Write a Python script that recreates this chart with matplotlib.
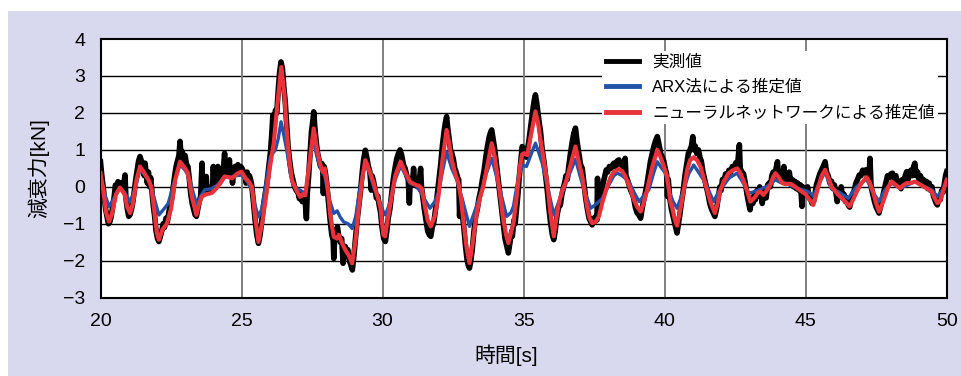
import numpy as np
import matplotlib
matplotlib.use("Agg")
import matplotlib.pyplot as plt
from matplotlib.patches import Rectangle

plt.rcParams['font.family'] = ['Liberation Sans', 'Noto Sans CJK JP']
plt.rcParams['axes.unicode_minus'] = True

labels = ["実測値", "ARX法による推定値", "ニューラルネットワークによる推定値"]
x_ticks = [20, 25, 30, 35, 40, 45, 50]
y_ticks = [-3, -2, -1, 0, 1, 2, 3, 4]

measured = [
    (20.00, 0.68), (20.04, 0.35), (20.08, 0.10), (20.13, -0.25), (20.18, -0.60), (20.23, -0.80),
    (20.28, -1.00), (20.33, -0.95), (20.38, -0.80), (20.43, -0.55), (20.48, -0.30), (20.53, 0.05),
    (20.57, -0.10), (20.62, 0.14), (20.66, 0.00), (20.71, 0.10), (20.76, -0.05), (20.81, 0.00),
    (20.87, 0.32), (20.90, -0.30), (20.95, -0.60), (21.00, -0.80), (21.05, -0.75), (21.10, -0.60),
    (21.15, -0.40), (21.20, -0.10), (21.25, 0.20), (21.30, 0.45), (21.35, 0.70), (21.40, 0.82),
    (21.45, 0.70), (21.50, 0.60), (21.55, 0.30), (21.58, 0.64), (21.62, 0.35), (21.66, 0.10),
    (21.70, 0.40), (21.74, 0.00), (21.78, 0.25), (21.82, -0.10), (21.87, -0.50), (21.92, -0.80),
    (21.97, -1.20), (22.02, -1.40), (22.07, -1.48), (22.12, -1.35), (22.17, -1.20), (22.22, -1.00),
    (22.27, -1.10), (22.32, -0.85), (22.37, -0.95), (22.42, -0.70), (22.47, -0.50), (22.53, -0.30),
    (22.58, 0.00), (22.63, 0.30), (22.68, 0.55), (22.73, 0.70), (22.78, 0.85), (22.82, 1.23),
    (22.86, 0.80), (22.90, 0.95), (22.95, 0.70), (23.00, 0.85), (23.05, 0.60), (23.10, 0.55),
    (23.15, 0.20), (23.20, -0.20), (23.25, -0.45), (23.30, -0.60), (23.35, -0.75), (23.40, -0.80),
    (23.45, -0.60), (23.50, -0.40), (23.55, -0.25), (23.60, 0.64), (23.63, -0.20), (23.68, -0.15),
    (23.72, -0.10), (23.75, 0.28), (23.78, -0.12), (23.83, -0.05), (23.88, -0.15), (23.93, 0.00),
    (23.97, -0.10), (24.00, 0.55), (24.03, -0.05), (24.08, 0.05), (24.13, 0.10), (24.16, 0.55),
    (24.20, 0.15), (24.25, 0.25), (24.30, 0.20), (24.35, 0.40), (24.40, 0.91), (24.43, 0.30),
    (24.48, 0.45), (24.52, 0.30), (24.57, 0.73), (24.60, 0.35), (24.65, 0.50), (24.68, 0.10),
    (24.72, 0.45), (24.77, 0.55), (24.82, 0.40), (24.87, 0.60), (24.92, 0.45), (24.97, 0.55),
    (25.02, 0.50), (25.07, 0.40), (25.12, 0.35), (25.16, 0.10), (25.20, 0.40), (25.24, 0.15),
    (25.28, 0.30), (25.32, 0.20), (25.36, 0.05), (25.42, -0.40), (25.48, -0.90), (25.54, -1.30),
    (25.60, -1.53), (25.66, -1.30), (25.72, -0.90), (25.78, -0.50), (25.84, -0.20), (25.90, 0.10),
    (25.96, 0.50), (26.02, 0.90), (26.07, 1.40), (26.11, 1.94), (26.15, 1.60), (26.20, 2.07),
    (26.25, 2.00), (26.30, 2.60), (26.35, 3.10), (26.40, 3.38), (26.45, 3.20), (26.50, 2.70),
    (26.55, 2.30), (26.60, 1.70), (26.65, 1.10), (26.70, 0.75), (26.76, 0.40), (26.82, 0.20),
    (26.88, 0.00), (26.94, -0.10), (27.00, -0.14), (27.05, -0.32), (27.10, -0.20), (27.15, -0.40),
    (27.20, -0.25), (27.25, -0.30), (27.30, -0.86), (27.33, -0.20), (27.38, 0.30), (27.43, 0.90),
    (27.48, 1.50), (27.53, 1.80), (27.56, 2.03), (27.60, 1.60), (27.65, 1.20), (27.70, 0.90),
    (27.75, 0.72), (27.80, 0.55), (27.85, 0.63), (27.88, 0.45), (27.90, -0.18), (27.93, 0.55),
    (27.97, 0.40), (28.02, 0.10), (28.08, -0.40), (28.14, -0.90), (28.20, -1.30), (28.25, -1.45),
    (28.27, -1.94), (28.30, -1.40), (28.35, -1.20), (28.40, -1.08), (28.45, -1.35), (28.50, -1.50),
    (28.55, -1.40), (28.60, -2.07), (28.63, -1.60), (28.68, -1.62), (28.72, -1.80), (28.77, -1.70),
    (28.82, -2.00), (28.87, -2.10), (28.93, -2.25), (28.98, -1.90), (29.04, -1.40), (29.10, -0.90),
    (29.16, -0.50), (29.22, -0.10), (29.28, 0.40), (29.33, 0.75), (29.39, 0.99), (29.44, 0.80),
    (29.50, 0.55), (29.55, 0.40), (29.60, -0.09), (29.63, 0.30), (29.68, 0.15), (29.73, -0.05),
    (29.78, -0.30), (29.83, -0.25), (29.88, -0.50), (29.93, -0.70), (29.98, -1.10), (30.04, -1.40),
    (30.10, -1.48), (30.15, -1.20), (30.20, -0.85), (30.26, -0.60), (30.32, -0.20), (30.38, 0.20),
    (30.44, 0.50), (30.50, 0.75), (30.56, 0.90), (30.62, 1.00), (30.68, 0.85), (30.74, 0.60),
    (30.80, 0.50), (30.86, 0.30), (30.91, 0.20), (30.95, -0.44), (30.98, 0.20), (31.03, 0.10),
    (31.08, 0.30), (31.10, 0.50), (31.14, 0.05), (31.19, 0.15), (31.24, 0.00), (31.29, 0.10),
    (31.35, 0.50), (31.38, 0.00), (31.43, -0.30), (31.48, -0.60), (31.54, -0.90), (31.60, -1.20),
    (31.66, -1.30), (31.71, -1.34), (31.76, -1.10), (31.82, -0.95), (31.88, -0.60), (31.94, -0.20),
    (32.00, 0.20), (32.06, 0.60), (32.12, 1.10), (32.18, 1.50), (32.23, 1.75), (32.27, 1.90),
    (32.31, 1.60), (32.36, 1.30), (32.41, 1.00), (32.46, 0.90), (32.51, 0.75), (32.56, 0.50),
    (32.61, 0.40), (32.66, 0.25), (32.70, 0.20), (32.73, -0.80), (32.76, -0.30), (32.82, -0.70),
    (32.88, -1.10), (32.94, -1.60), (33.00, -2.00), (33.05, -2.15), (33.08, -2.20), (33.12, -2.05),
    (33.18, -1.70), (33.24, -1.20), (33.30, -0.80), (33.36, -0.60), (33.42, -0.30), (33.48, -0.10),
    (33.54, 0.20), (33.60, 0.45), (33.66, 0.80), (33.72, 1.10), (33.78, 1.35), (33.84, 1.50),
    (33.87, 1.54), (33.92, 1.30), (33.98, 1.00), (34.04, 0.60), (34.10, 0.20), (34.16, -0.20),
    (34.22, -0.60), (34.28, -1.00), (34.34, -1.40), (34.40, -1.60), (34.46, -1.79), (34.52, -1.50),
    (34.58, -1.20), (34.60, -1.34), (34.66, -0.90), (34.70, -1.00), (34.75, -0.60), (34.80, -0.20),
    (34.85, 0.30), (34.90, 0.70), (34.95, 1.09), (35.00, 1.00), (35.05, 0.95), (35.10, 0.80),
    (35.13, 1.00), (35.18, 1.20), (35.23, 1.50), (35.28, 1.80), (35.33, 2.10), (35.38, 2.35),
    (35.42, 2.49), (35.46, 2.30), (35.51, 2.00), (35.56, 1.70), (35.60, 1.50), (35.66, 1.00),
    (35.72, 0.70), (35.78, 0.30), (35.84, -0.10), (35.90, -0.60), (35.96, -1.00), (36.02, -1.30),
    (36.07, -1.43), (36.12, -1.20), (36.18, -0.80), (36.24, -0.55), (36.30, -0.50), (36.36, -0.20),
    (36.42, 0.00), (36.48, 0.20), (36.50, 0.30), (36.55, 0.20), (36.60, 0.55), (36.66, 0.90),
    (36.72, 1.20), (36.78, 1.45), (36.84, 1.59), (36.90, 1.20), (36.96, 0.90), (37.02, 0.60),
    (37.08, 0.50), (37.14, 0.10), (37.20, -0.30), (37.26, -0.60), (37.32, -0.85), (37.38, -0.95),
    (37.43, -1.03), (37.48, -0.85), (37.52, -0.95), (37.56, -0.80), (37.60, -0.90), (37.62, 0.23),
    (37.65, -0.70), (37.70, -0.50), (37.76, -0.20), (37.82, 0.10), (37.88, 0.30), (37.93, 0.46),
    (37.98, 0.40), (38.04, 0.55), (38.10, 0.50), (38.16, 0.60), (38.20, 0.64), (38.26, 0.55),
    (38.32, 0.70), (38.38, 0.73), (38.44, 0.60), (38.50, 0.65), (38.55, 0.45), (38.60, 0.77),
    (38.63, 0.30), (38.68, 0.20), (38.74, 0.05), (38.80, -0.10), (38.86, -0.20), (38.90, -0.30),
    (38.96, -0.55), (39.02, -0.70), (39.08, -0.75), (39.15, -0.85), (39.20, -0.60), (39.26, -0.35),
    (39.32, -0.15), (39.38, 0.10), (39.44, 0.40), (39.50, 0.70), (39.56, 0.90), (39.62, 1.10),
    (39.68, 1.25), (39.74, 1.36), (39.80, 1.15), (39.86, 0.90), (39.92, 0.80), (39.97, 0.70),
    (40.02, 0.50), (40.07, 0.35), (40.10, -0.26), (40.13, 0.20), (40.18, -0.30), (40.24, -0.60),
    (40.30, -0.80), (40.36, -1.00), (40.41, -1.15), (40.44, -1.25), (40.48, -1.05), (40.54, -0.75),
    (40.60, -0.40), (40.66, -0.10), (40.72, 0.30), (40.78, 0.60), (40.84, 0.90), (40.90, 1.00),
    (40.95, 1.10), (41.00, 1.36), (41.04, 1.00), (41.09, 1.10), (41.14, 0.90), (41.20, 1.00),
    (41.25, 0.80), (41.30, 0.70), (41.36, 0.40), (41.42, 0.20), (41.48, 0.00), (41.54, -0.20),
    (41.60, -0.45), (41.66, -0.60), (41.72, -0.70), (41.78, -0.80), (41.84, -0.60), (41.90, -0.30),
    (41.96, 0.00), (42.00, -0.10), (42.05, 0.20), (42.10, 0.10), (42.16, 0.35), (42.22, 0.25),
    (42.28, 0.45), (42.34, 0.40), (42.40, 0.55), (42.46, 0.50), (42.52, 0.65), (42.58, 0.55),
    (42.65, 1.14), (42.68, 0.50), (42.74, 0.40), (42.80, 0.35), (42.86, 0.10), (42.92, -0.20),
    (42.98, -0.45), (43.03, -0.62), (43.08, -0.30), (43.13, -0.45), (43.18, -0.20), (43.22, -0.35),
    (43.27, -0.10), (43.32, -0.25), (43.37, 0.00), (43.42, -0.15), (43.46, -0.45), (43.50, -0.20),
    (43.55, -0.10), (43.60, -0.30), (43.65, 0.05), (43.70, 0.10), (43.75, 0.00), (43.80, 0.30),
    (43.85, 0.40), (43.90, 0.30), (43.95, 0.50), (44.00, 0.68), (44.04, 0.25), (44.09, 0.40),
    (44.14, 0.20), (44.19, 0.35), (44.23, 0.55), (44.27, 0.10), (44.32, 0.30), (44.37, 0.15),
    (44.42, 0.40), (44.47, 0.10), (44.52, 0.20), (44.57, 0.00), (44.62, 0.15), (44.67, -0.05),
    (44.72, 0.10), (44.77, -0.10), (44.82, 0.05), (44.87, -0.53), (44.90, 0.00), (44.97, -0.05),
    (45.02, -0.20), (45.07, 0.00), (45.12, -0.30), (45.18, -0.35), (45.23, -0.45), (45.28, -0.40),
    (45.33, -0.20), (45.38, 0.05), (45.44, 0.20), (45.50, 0.35), (45.56, 0.45), (45.62, 0.55),
    (45.69, 0.68), (45.74, 0.40), (45.80, 0.30), (45.86, 0.10), (45.92, 0.15), (45.97, -0.05),
    (46.02, 0.05), (46.07, -0.15), (46.12, -0.40), (46.16, -0.10), (46.21, -0.20), (46.26, 0.00),
    (46.31, -0.30), (46.36, -0.20), (46.41, -0.40), (46.46, -0.30), (46.51, -0.50), (46.56, -0.55),
    (46.61, -0.35), (46.66, -0.20), (46.72, -0.10), (46.78, 0.10), (46.84, 0.20), (46.90, 0.32),
    (46.96, 0.30), (47.02, 0.45), (47.08, 0.40), (47.13, 0.46), (47.18, 0.30), (47.24, 0.20),
    (47.28, 0.77), (47.32, 0.00), (47.38, -0.20), (47.44, -0.40), (47.50, -0.55), (47.56, -0.65),
    (47.60, -0.71), (47.66, -0.50), (47.72, -0.30), (47.78, -0.10), (47.84, 0.10), (47.90, 0.30),
    (47.96, 0.25), (48.02, 0.35), (48.08, 0.37), (48.14, 0.20), (48.20, 0.30), (48.26, 0.05),
    (48.32, 0.15), (48.38, -0.05), (48.43, 0.20), (48.48, 0.10), (48.53, 0.30), (48.58, 0.41),
    (48.63, 0.20), (48.68, 0.35), (48.73, 0.45), (48.78, 0.30), (48.83, 0.55), (48.87, 0.64),
    (48.92, 0.30), (48.97, 0.40), (49.02, 0.20), (49.07, 0.30), (49.12, 0.10), (49.17, 0.20),
    (49.22, 0.05), (49.28, 0.15), (49.33, -0.05), (49.38, 0.10), (49.43, -0.10), (49.48, 0.00),
    (49.53, -0.25), (49.58, -0.35), (49.63, -0.45), (49.67, -0.49), (49.72, -0.30), (49.77, -0.35),
    (49.82, -0.10), (49.87, -0.15), (49.92, 0.10), (49.96, 0.30), (50.00, 0.41),
]

# ARX法による推定値
arx = [
    (20.00, 0.30), (20.15, -0.20), (20.30, -0.53), (20.45, -0.35), (20.69, -0.02), (20.85, -0.15),
    (21.05, -0.40), (21.20, -0.10), (21.40, 0.45), (21.60, 0.30), (21.75, 0.12), (21.90, -0.30),
    (22.07, -0.76), (22.25, -0.60), (22.40, -0.45), (22.60, 0.10), (22.82, 0.60), (23.00, 0.45),
    (23.15, 0.25), (23.30, -0.20), (23.42, -0.49), (23.55, -0.25), (23.70, -0.08), (23.94, -0.05),
    (24.15, 0.05), (24.40, 0.28), (24.60, 0.26), (24.80, 0.30), (25.00, 0.32), (25.20, 0.15),
    (25.37, -0.09), (25.48, -0.50), (25.60, -0.81), (25.72, -0.60), (25.85, 0.00), (26.02, 0.81),
    (26.20, 1.00), (26.30, 1.30), (26.40, 1.76), (26.50, 1.40), (26.60, 1.00), (26.79, 0.14),
    (26.95, -0.05), (27.08, -0.09), (27.26, -0.18), (27.40, 0.50), (27.53, 1.35), (27.65, 0.90),
    (27.80, 0.50), (27.95, 0.30), (28.10, -0.30), (28.27, -0.72), (28.39, -0.65), (28.50, -0.82),
    (28.62, -0.95), (28.78, -1.00), (28.92, -1.13), (29.05, -0.80), (29.15, -0.27), (29.28, 0.30),
    (29.39, 0.72), (29.55, 0.35), (29.72, -0.09), (29.90, -0.40), (30.05, -0.72), (30.10, -0.76),
    (30.26, -0.44), (30.45, 0.20), (30.64, 0.57), (30.97, 0.10), (31.20, 0.03), (31.37, -0.17),
    (31.50, -0.35), (31.68, -0.58), (31.85, -0.40), (31.98, -0.17), (32.12, 0.40), (32.27, 0.95),
    (32.45, 0.50), (32.63, 0.19), (32.85, -0.40), (33.08, -1.07), (33.25, -0.70), (33.45, -0.26),
    (33.65, 0.30), (33.87, 0.77), (34.00, 0.40), (34.16, -0.08), (34.30, -0.50), (34.40, -0.80),
    (34.55, -0.70), (34.64, -0.53), (34.80, 0.20), (34.95, 0.59), (35.10, 0.55), (35.25, 0.85),
    (35.42, 1.18), (35.55, 0.90), (35.66, 0.64), (35.90, -0.17), (36.07, -0.76), (36.20, -0.50),
    (36.37, -0.17), (36.60, 0.30), (36.84, 0.75), (37.00, 0.30), (37.14, -0.08), (37.38, -0.58),
    (37.60, -0.45), (37.79, -0.31), (38.02, 0.05), (38.20, 0.30), (38.32, 0.37), (38.50, 0.30),
    (38.73, 0.14), (38.95, -0.20), (39.10, -0.40), (39.30, -0.20), (39.44, -0.08), (39.60, 0.35),
    (39.74, 0.68), (39.90, 0.50), (40.03, 0.37), (40.15, -0.10), (40.30, -0.40), (40.44, -0.58),
    (40.60, -0.25), (40.68, -0.08), (40.85, 0.35), (41.03, 0.59), (41.20, 0.40), (41.45, 0.10),
    (41.62, -0.20), (41.74, -0.40), (41.90, -0.15), (42.04, 0.00), (42.30, 0.25), (42.57, 0.37),
    (42.75, 0.15), (42.98, -0.17), (43.10, -0.15), (43.34, -0.08), (43.60, 0.00), (43.78, 0.10),
    (43.93, 0.19), (44.10, 0.12), (44.28, 0.10), (44.50, 0.02), (44.87, -0.08), (45.00, -0.10),
    (45.17, -0.17), (45.27, -0.26), (45.45, 0.05), (45.69, 0.41), (45.90, -0.04), (46.20, -0.15),
    (46.51, -0.31), (46.80, 0.00), (47.16, 0.21), (47.35, -0.10), (47.60, -0.40), (47.80, -0.10),
    (48.05, 0.10), (48.35, -0.04), (48.88, 0.14), (49.20, 0.00), (49.47, -0.08), (49.67, -0.26),
    (49.85, -0.10), (50.00, 0.14),
]

# ニューラルネットワークによる推定値
nn = [
    (20.00, 0.37), (20.10, -0.10), (20.20, -0.70), (20.30, -0.94), (20.40, -0.75), (20.55, -0.20),
    (20.69, -0.02), (20.85, -0.20), (20.95, -0.55), (21.05, -0.71), (21.15, -0.45), (21.28, 0.20),
    (21.40, 0.55), (21.55, 0.38), (21.70, 0.19), (21.80, 0.00), (21.90, -0.60), (22.00, -1.25),
    (22.07, -1.43), (22.20, -1.15), (22.35, -1.00), (22.50, -0.60), (22.65, 0.20), (22.82, 0.68),
    (23.00, 0.50), (23.10, 0.37), (23.25, -0.30), (23.40, -0.76), (23.50, -0.45), (23.60, -0.26),
    (23.75, -0.20), (23.94, -0.17), (24.10, -0.05), (24.25, 0.10), (24.40, 0.28), (24.55, 0.26),
    (24.66, 0.23), (24.85, 0.36), (25.00, 0.41), (25.14, 0.23), (25.25, 0.15), (25.37, 0.00),
    (25.48, -0.80), (25.60, -1.49), (25.75, -0.90), (25.90, -0.09), (26.00, 0.50), (26.14, 1.17),
    (26.28, 2.30), (26.41, 3.24), (26.52, 2.50), (26.61, 1.44), (26.70, 0.70), (26.79, 0.18),
    (26.95, -0.10), (27.08, -0.27), (27.18, -0.20), (27.26, -0.23), (27.40, 0.60), (27.56, 1.58),
    (27.68, 1.00), (27.80, 0.59), (27.88, 0.40), (27.95, 0.50), (28.05, 0.00), (28.15, -0.80),
    (28.27, -1.35), (28.38, -1.40), (28.45, -1.30), (28.55, -1.50), (28.68, -1.71), (28.80, -1.85),
    (28.92, -2.07), (29.05, -1.40), (29.15, -0.63), (29.28, 0.20), (29.39, 0.72), (29.55, 0.40),
    (29.69, 0.09), (29.80, -0.20), (29.92, -0.54), (30.03, -1.30), (30.09, -1.34), (30.18, -0.90),
    (30.26, -0.53), (30.45, 0.30), (30.64, 0.68), (30.80, 0.40), (30.97, 0.14), (31.10, 0.08),
    (31.21, 0.05), (31.30, 0.02), (31.39, -0.04), (31.50, -0.53), (31.60, -0.90), (31.71, -1.07),
    (31.85, -0.80), (31.98, -0.26), (32.12, 0.70), (32.27, 1.54), (32.38, 1.10), (32.45, 0.73),
    (32.58, 0.35), (32.69, 0.10), (32.78, -0.30), (32.86, -0.89), (32.97, -1.60), (33.08, -2.06),
    (33.20, -1.50), (33.34, -0.71), (33.45, -0.30), (33.57, 0.00), (33.72, 0.60), (33.87, 1.18),
    (33.98, 0.80), (34.11, 0.10), (34.20, -0.40), (34.28, -0.89), (34.38, -1.30), (34.46, -1.52),
    (34.55, -1.25), (34.64, -0.98), (34.75, -0.30), (34.87, 0.55), (34.95, 0.88), (35.02, 0.91),
    (35.13, 0.86), (35.25, 1.36), (35.42, 2.04), (35.52, 1.70), (35.60, 1.27), (35.72, 0.70),
    (35.84, 0.10), (35.95, -0.71), (36.07, -1.34), (36.15, -0.90), (36.25, -0.44), (36.37, -0.10),
    (36.49, 0.10), (36.65, 0.55), (36.84, 1.09), (36.95, 0.70), (37.08, 0.28), (37.18, -0.20),
    (37.25, -0.53), (37.34, -0.85), (37.43, -0.98), (37.55, -0.95), (37.67, -0.80), (37.80, -0.40),
    (37.96, 0.00), (38.08, 0.25), (38.20, 0.41), (38.38, 0.48), (38.50, 0.42), (38.61, 0.28),
    (38.76, 0.00), (38.91, -0.35), (39.03, -0.55), (39.15, -0.67), (39.25, -0.45), (39.38, -0.08),
    (39.55, 0.50), (39.74, 1.00), (39.85, 0.82), (39.97, 0.55), (40.09, 0.28), (40.21, -0.44),
    (40.26, -0.53), (40.35, -0.85), (40.44, -1.05), (40.52, -0.75), (40.62, -0.35), (40.70, 0.00),
    (40.80, 0.46), (40.90, 0.72), (41.03, 0.80), (41.15, 0.72), (41.27, 0.55), (41.38, 0.25),
    (41.50, -0.08), (41.62, -0.40), (41.78, -0.71), (41.88, -0.45), (41.98, -0.08), (42.10, 0.15),
    (42.27, 0.37), (42.42, 0.45), (42.57, 0.50), (42.70, 0.35), (42.81, 0.14), (42.92, -0.10),
    (43.04, -0.40), (43.12, -0.35), (43.22, -0.26), (43.32, -0.15), (43.40, -0.13), (43.50, -0.22),
    (43.62, -0.10), (43.75, 0.05), (43.84, 0.25), (43.93, 0.37), (44.05, 0.25), (44.17, 0.10),
    (44.30, 0.08), (44.46, 0.08), (44.58, 0.03), (44.70, -0.04), (44.87, -0.13), (45.00, -0.20),
    (45.10, -0.31), (45.18, -0.38), (45.27, -0.49), (45.36, -0.25), (45.45, 0.01), (45.57, 0.30),
    (45.69, 0.46), (45.80, 0.25), (45.92, 0.00), (46.05, -0.12), (46.16, -0.22), (46.30, -0.32),
    (46.45, -0.44), (46.55, -0.53), (46.68, -0.35), (46.81, -0.13), (46.98, 0.10), (47.16, 0.26),
    (47.28, 0.10), (47.40, -0.17), (47.50, -0.45), (47.60, -0.67), (47.70, -0.50), (47.81, -0.26),
    (47.93, 0.00), (48.05, 0.14), (48.20, 0.05), (48.35, -0.04), (48.47, 0.05), (48.58, 0.10),
    (48.70, 0.10), (48.88, 0.14), (49.02, 0.08), (49.17, 0.01), (49.32, -0.05), (49.47, -0.13),
    (49.57, -0.30), (49.67, -0.44), (49.75, -0.40), (49.82, -0.26), (49.92, 0.00), (50.00, 0.19),
]

panel_color = '#d8d9ee'
fig = plt.figure(figsize=(9.62, 3.76), dpi=100)
fig.patch.set_facecolor('white')
# light panel behind the chart (white strip on left and top)
fig.patches.append(Rectangle((8 / 962, 0), 1 - 8 / 962, 1 - 11 / 376,
                             transform=fig.transFigure, facecolor=panel_color,
                             edgecolor='none', zorder=-10))

ax = fig.add_axes([100.5 / 962, 78.3 / 376, 846.2 / 962, 258.7 / 376])
ax.set_facecolor('white')

m = np.array(measured).T
a = np.array(arx).T
n = np.array(nn).T
ax.plot(m[0], m[1], color='black', lw=4.0, solid_joinstyle='round', label=labels[0], zorder=3)
ax.plot(a[0], a[1], color='#2352a6', lw=2.4, solid_joinstyle='round', label=labels[1], zorder=4)
ax.plot(n[0], n[1], color='#e8333b', lw=3.0, solid_joinstyle='round', label=labels[2], zorder=5)

ax.set_xlim(20, 50)
ax.set_ylim(-3, 4)
ax.set_xticks(x_ticks)
ax.set_yticks(y_ticks)
ax.tick_params(length=0, labelsize=14, pad=11)
for y in y_ticks[1:-1]:
    ax.axhline(y, color='black', lw=1.0, zorder=1)
for x in x_ticks[1:-1]:
    ax.axvline(x, color='#808080', lw=1.4, zorder=1)
for s in ax.spines.values():
    s.set_linewidth(1.5)
    s.set_color('black')

ax.set_xlabel('時間[s]', fontsize=15)
ax.xaxis.set_label_coords(0.479, -0.18)
ax.set_ylabel('減衰力[kN]', fontsize=15, labelpad=10)

leg = ax.legend(loc='upper right', bbox_to_anchor=(0.99, 0.955), fontsize=12,
                frameon=True, fancybox=False, framealpha=1, edgecolor='none',
                facecolor='white', borderaxespad=0, borderpad=0.2,
                handlelength=2.0, handletextpad=0.8, labelspacing=0.62)
for line in leg.get_lines():
    line.set_linewidth(3.5)
leg.set_zorder(10)

fig.savefig('out.png', dpi=100, facecolor=fig.get_facecolor())
